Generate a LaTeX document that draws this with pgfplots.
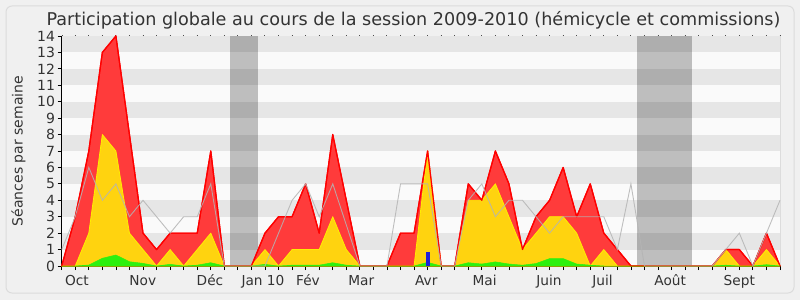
\documentclass[border=0pt]{standalone}
\usepackage{pgfplots}
\pgfplotsset{compat=1.18}
\usepackage{pgfplotstable}
\usepackage{fontspec}
\setmainfont{DejaVu Sans}
\definecolor{bgc}{HTML}{F0F0F0}
\definecolor{brd}{HTML}{DCDCDC}
\definecolor{txt}{HTML}{333333}
\definecolor{stripe}{HTML}{E6E6E6}
\definecolor{plotbg}{HTML}{FAFAFA}
\definecolor{redfill}{HTML}{FF3B3B}
\definecolor{yelfill}{HTML}{FFD30F}
\definecolor{yelline}{HTML}{FFEE00}
\definecolor{grnfill}{HTML}{2DF00F}
\definecolor{greyline}{HTML}{B4B4B4}
\definecolor{bluebar}{HTML}{2020D8}

\pgfplotstableread{
i red yel grn gry
0 0 0 0 1
1 3 0 0 3
2 7 2 0.06 6
3 13 8 0.47 4
4 14 7 0.67 5
5 8 2 0.26 3
6 2 1 0.16 4
7 1 0 0 3
8 2 1 0.1 2
9 2 0 0 3
10 2 1 0.05 3
11 7 2 0.2 5
12 0 0 0 0
13 0 0 0 0
14 0 0 0 0
15 2 1 0.1 0
16 3 0 0 2
17 3 1 0.05 4
18 5 1 0.05 5
19 2 1 0.05 3
20 8 3 0.2 5
21 4 1 0.05 2.5
22 0 0 0 0
23 0 0 0 0
24 0 0 0 0
25 2 0 0 5
26 2 0 0 5
27 7 7 0.22 5
28 0 0 0 0
29 0 0 0 0
30 5 4 0.2 4
31 4 4 0.12 5
32 7 5 0.25 3
33 5 3 0.12 4
34 1 1 0.05 4
35 3 2 0.15 3
36 4 3 0.45 2
37 6 3 0.45 3
38 3 2 0.12 3
39 5 0 0.05 3
40 2 1 0 3
41 1 0 0 1
42 0 0 0 5
43 0 0 0 0
44 0 0 0 0
45 0 0 0 0
46 0 0 0 0
47 0 0 0 0
48 0 0 0 0
49 1 1 0.05 1
50 1 0 0 2
51 0 0 0 0
52 2 1 0.08 2
53 0 0 0 4
}\seances

\begin{document}
\begin{tikzpicture}[x=1pt,y=1pt]
\fill[bgc] (0,0) rectangle (800,300);
\draw[brd, line width=1pt, rounded corners=6pt] (6,7) rectangle (794,294);
\node[anchor=base, text=txt, font=\fontsize{17.6}{20}\selectfont] at (413.5,274) {Participation globale au cours de la session 2009-2010 (hémicycle et commissions)};
\node[rotate=90, text=txt, font=\fontsize{14}{16}\selectfont] at (18.5,149) {Séances par semaine};
\begin{axis}[
  at={(61.7pt,34pt)}, anchor=south west, scale only axis,
  width=718.3pt, height=230pt,
  xmin=0, xmax=53, ymin=0, ymax=14,
  axis x line*=bottom, axis y line*=left,
  axis line style={black, line width=0.8pt},
  axis background/.style={fill=plotbg},
  xtick={1.13,5.98,10.94,14.85,18.17,22.1,26.9,31.2,35.96,39.9,44.9,50.0},
  xticklabels={Oct,Nov,Déc,Jan 10,Fév,Mar,Avr,Mai,Juin,Juil,Août,Sept},
  minor xtick={0,1,...,53},
  ytick={0,1,...,14},
  tick align=outside,
  major tick length=4pt,
  minor tick length=4pt,
  major x tick style={draw=none},
  tick style={black, line width=0.8pt},
  /pgf/number format/assume math mode=true,
  xticklabel style={font=\fontsize{13.7}{16}\selectfont, text=txt, anchor=base, yshift=-15pt},
  yticklabel style={font=\fontsize{14}{16}\selectfont, text=txt, anchor=east, inner sep=0pt, xshift=-2.5pt},
  clip=false,
]
\fill[stripe] (axis cs:0,1) rectangle (axis cs:53,2);
\fill[stripe] (axis cs:0,3) rectangle (axis cs:53,4);
\fill[stripe] (axis cs:0,5) rectangle (axis cs:53,6);
\fill[stripe] (axis cs:0,7) rectangle (axis cs:53,8);
\fill[stripe] (axis cs:0,9) rectangle (axis cs:53,10);
\fill[stripe] (axis cs:0,11) rectangle (axis cs:53,12);
\fill[stripe] (axis cs:0,13) rectangle (axis cs:53,14);
\fill[black, opacity=0.24] (axis cs:12.42,0) rectangle (axis cs:14.46,14);
\fill[black, opacity=0.24] (axis cs:42.45,0) rectangle (axis cs:46.48,14);
\draw[brd, line width=0.8pt] (axis cs:53,0) -- (axis cs:53,14);
\draw[black!70, line width=1pt, dash pattern=on 1pt off 12.553pt, dash phase=0.5pt] (axis cs:0,14) -- (axis cs:53,14);
\addplot[draw=red, line width=1.2pt, fill=redfill, line join=round] table[x=i, y=red] {\seances} \closedcycle;
\addplot[draw=yelline, line width=0.8pt, fill=yelfill, line join=round] table[x=i, y=yel] {\seances} \closedcycle;
\addplot[draw=red, line width=1.2pt, line join=round] table[x=i, y=red] {\seances};
\addplot[draw=grnfill, line width=0.5pt, fill=grnfill] table[x=i, y=grn] {\seances} \closedcycle;
\addplot[ybar, bar width=4pt, fill=bluebar, draw=none] coordinates {(27,0.85)};
\addplot[draw=greyline, line width=0.9pt, opacity=0.85] table[x=i, y=gry] {\seances};
\end{axis}
\pgfresetboundingbox
\path (0,0) rectangle (800,300);
\end{tikzpicture}
\end{document}
